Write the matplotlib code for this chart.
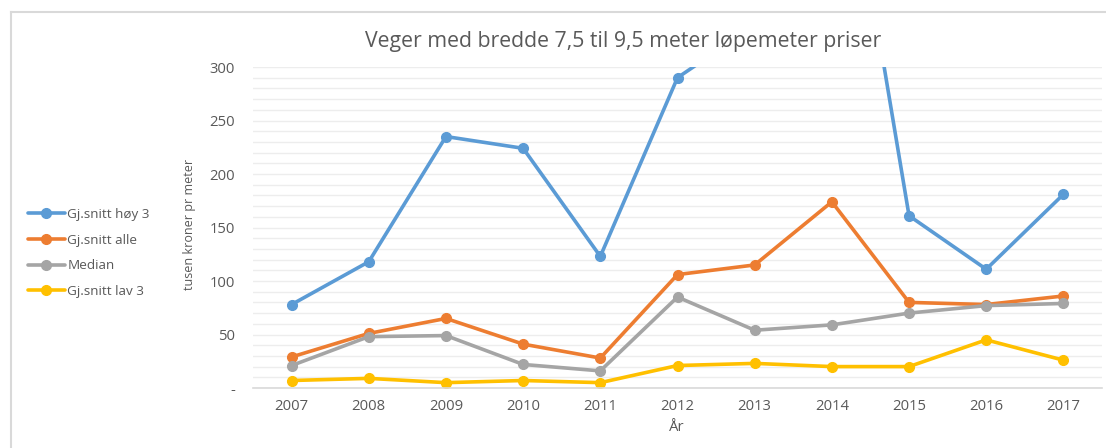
import matplotlib
matplotlib.use("Agg")
import matplotlib.pyplot as plt
from matplotlib.ticker import MultipleLocator, FixedLocator
from matplotlib.lines import Line2D

plt.rcParams['font.family'] = ['Open Sans', 'DejaVu Sans']

years = [2007, 2008, 2009, 2010, 2011, 2012, 2013, 2014, 2015, 2016, 2017]

# values in tusen kroner pr meter
hoy3 = [78, 118, 235, 224, 123, 290, 339, 592, 161, 111, 181]
alle = [29, 51, 65, 41, 28, 106, 115, 174, 80, 78, 86]
median = [21, 48, 49, 22, 16, 85, 54, 59, 70, 77, 79]
lav3 = [7, 9, 5, 7, 5, 21, 23, 20, 20, 45, 26]

series_names = ["Gj.snitt høy 3", "Gj.snitt alle", "Median", "Gj.snitt lav 3"]
series_colors = ["#5B9BD5", "#ED7D31", "#A5A5A5", "#FFC000"]

title = "Veger med bredde 7,5 til 9,5 meter løpemeter priser"
text_color = "#595959"
W, H = 1106, 448

fig = plt.figure(figsize=(W / 100, H / 100), dpi=100)

# thin frame of the chart object (top and left edges visible)
fig.add_artist(Line2D([11 / W, 11 / W], [0, 1 - 12 / H], color="#D9D9D9", lw=1.5))
fig.add_artist(Line2D([11 / W, 1], [1 - 12 / H, 1 - 12 / H], color="#D9D9D9", lw=1.5))

ax = fig.add_axes([253 / W, (H - 388) / H, (1102 - 253) / W, (388 - 67) / H])

for vals, name, col in zip([hoy3, alle, median, lav3], series_names, series_colors):
	ax.plot(
		years, vals,
		color=col, lw=2.6,
		marker="o", markersize=7,
		label=name,
		solid_capstyle="round",
	)

ax.set_xlim(2006.5, 2017.5)
ax.set_ylim(0, 300)

ax.yaxis.set_major_locator(FixedLocator([0, 50, 100, 150, 200, 250, 300]))
ax.set_yticklabels(["-", "50", "100", "150", "200", "250", "300"])
ax.yaxis.set_minor_locator(MultipleLocator(10))
ax.set_xticks(years)
ax.set_xticklabels([str(y) for y in years])

ax.grid(which="both", axis="y", color="#EDEDED", lw=1)
ax.set_axisbelow(True)

for side in ["top", "right", "left"]:
	ax.spines[side].set_visible(False)
ax.spines["bottom"].set_color("#D9D9D9")
ax.spines["bottom"].set_linewidth(1.2)

ax.tick_params(axis="both", which="both", length=0, labelsize=10.7, labelcolor=text_color)
ax.tick_params(axis="x", pad=8)
ax.tick_params(axis="y", pad=13)

fig.text(623 / W, 1 - 42 / H, title, ha="center", va="center", fontsize=15.3, color=text_color)
fig.text(677 / W, 1 - 427 / H, "År", ha="center", va="center", fontsize=10.7, color=text_color)
fig.text(190 / W, 1 - 224 / H, "tusen kroner pr meter", ha="center", va="center",
	rotation=90, fontsize=9, color=text_color)

handles, labels = ax.get_legend_handles_labels()
leg = fig.legend(
	handles, labels,
	loc="center left", bbox_to_anchor=(16 / W, 1 - 253 / H),
	frameon=False, fontsize=9.7,
	handlelength=2.7, handletextpad=0.2,
	labelspacing=0.95,
)
for t in leg.get_texts():
	t.set_color(text_color)

plt.savefig("out.png", dpi=100)
plt.close()
